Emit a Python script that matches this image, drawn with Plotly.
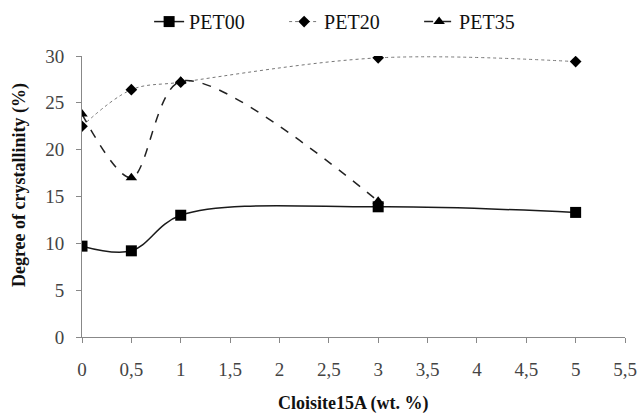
import plotly.graph_objects as go

# Cloisite 15A loading (wt. %)
x_pet00 = [0, 0.5, 1, 3, 5]
x_pet20 = [0, 0.5, 1, 3, 5]
x_pet35 = [0, 0.5, 1, 3]

# Degree of crystallinity (%)
y_pet00 = [9.7, 9.2, 13.0, 13.9, 13.3]
y_pet20 = [22.5, 26.4, 27.2, 29.8, 29.4]
y_pet35 = [23.8, 17.0, 27.3, 14.5]

x_ticks = [0, 0.5, 1, 1.5, 2, 2.5, 3, 3.5, 4, 4.5, 5, 5.5]
x_tick_text = ["0", "0,5", "1", "1,5", "2", "2,5", "3", "3,5", "4", "4,5", "5", "5,5"]
y_ticks = [0, 5, 10, 15, 20, 25, 30]

serif = "Times New Roman, Liberation Serif, serif"

fig = go.Figure()
fig.add_trace(go.Scatter(
    x=x_pet00, y=y_pet00, name="PET00", mode="lines+markers",
    line=dict(color="#1a1a1a", width=1.5, shape="spline", smoothing=1),
    marker=dict(symbol="square", size=11, color="black"),
))
fig.add_trace(go.Scatter(
    x=x_pet20, y=y_pet20, name="PET20", mode="lines+markers",
    line=dict(color="#777777", width=1, dash="dot", shape="spline", smoothing=1),
    marker=dict(symbol="diamond", size=9, color="black"),
))
fig.add_trace(go.Scatter(
    x=x_pet35, y=y_pet35, name="PET35", mode="lines+markers",
    line=dict(color="#222222", width=1.5, dash="dash", shape="spline", smoothing=0.9),
    marker=dict(symbol="triangle-up", size=10, color="black"),
))

fig.update_layout(
    width=640, height=416,
    margin=dict(l=82, r=15, t=56, b=79),
    paper_bgcolor="white", plot_bgcolor="white",
    font=dict(family=serif, size=16, color="#222222"),
    showlegend=True,
    legend=dict(orientation="h", xref="container", x=0.233, xanchor="left",
                yref="container", y=0.995, yanchor="top",
                font=dict(family=serif, size=20, color="#111111"),
                entrywidth=90, entrywidthmode="pixels", traceorder="normal"),
)

fig.update_xaxes(
    range=[0, 5.5], tickvals=x_ticks, ticktext=x_tick_text, automargin=False,
    showgrid=False, zeroline=False, showline=True, linecolor="#888888", linewidth=1,
    ticks="outside", ticklen=5, tickcolor="#888888", ticklabelstandoff=10,
    tickfont=dict(family=serif, size=19, color="#444444"),
)
fig.update_yaxes(
    range=[0, 30], tickvals=y_ticks, automargin=False,
    showgrid=False, zeroline=False, showline=True, linecolor="#888888", linewidth=1,
    ticks="outside", ticklen=5, tickcolor="#888888", ticklabelstandoff=8,
    tickfont=dict(family=serif, size=19, color="#444444"),
)

# Axis titles
fig.add_annotation(text="<b>Cloisite15A (wt. %)</b>", xref="paper", yref="paper",
                   x=0.499, y=-0.235, xanchor="center", yanchor="middle", showarrow=False,
                   font=dict(family=serif, size=18, color="#111111"))
fig.add_annotation(text="<b>Degree of crystallinity (%)</b>", xref="paper", yref="paper",
                   x=-0.114, y=0.541, xanchor="center", yanchor="middle", showarrow=False,
                   textangle=-90, font=dict(family=serif, size=18, color="#111111"))

fig.write_html("out.html")
